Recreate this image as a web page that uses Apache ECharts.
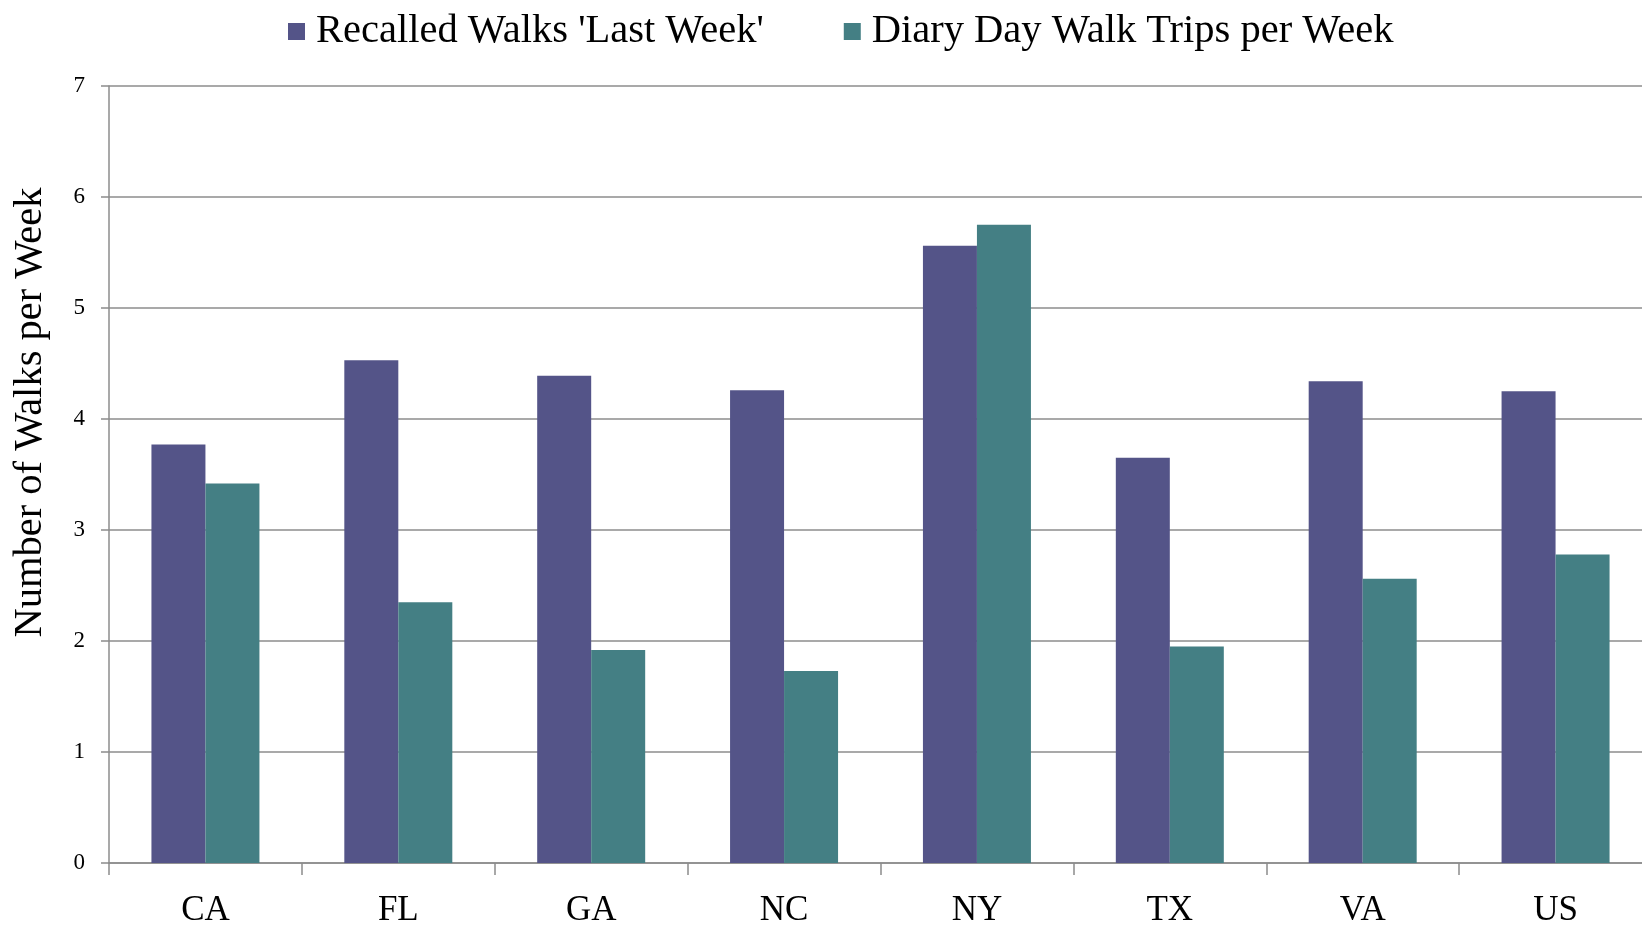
<!DOCTYPE html>
<html>
<head>
<meta charset="utf-8">
<script src="https://cdn.jsdelivr.net/npm/echarts@6/dist/echarts.min.js"></script>
<style>
  html, body { margin: 0; padding: 0; background: #fff; }
  #chart { width: 1642px; height: 926px; }
</style>
</head>
<body>
<div id="chart"></div>
<script>
  // data
  var states = ['CA', 'FL', 'GA', 'NC', 'NY', 'TX', 'VA', 'US'];
  var recalledWalks = [3.77, 4.53, 4.39, 4.26, 5.56, 3.65, 4.34, 4.25];
  var diaryWalks = [3.42, 2.35, 1.92, 1.73, 5.75, 1.95, 2.56, 2.78];
  var seriesNames = ["Recalled Walks 'Last Week'", 'Diary Day Walk Trips per Week'];

  var serif = '"Liberation Serif", "DejaVu Serif", serif';
  var gridGrey = '#8c8c8c';

  var myChart = echarts.init(document.getElementById('chart'));
  var option = {
    animation: false,
    color: ['#545488', '#447f84'],
    legend: {
      top: 6,
      left: 283,
      itemWidth: 17,
      itemHeight: 17,
      itemGap: 80,
      icon: 'rect',
      textStyle: {
        fontFamily: serif,
        fontSize: 40.5,
        color: '#000',
        padding: [0, 0, 0, 6]
      },
      data: seriesNames
    },
    grid: {
      left: 109,
      top: 86,
      bottom: 63,
      right: -10,
      containLabel: false,
      outerBoundsMode: 'none'
    },
    xAxis: {
      type: 'category',
      data: states,
      axisLine: { lineStyle: { color: gridGrey, width: 1.5 } },
      axisTick: { show: true, length: 12, lineStyle: { color: gridGrey, width: 1.5 } },
      axisLabel: {
        margin: 30,
        fontFamily: serif,
        fontSize: 35,
        color: '#000'
      }
    },
    yAxis: {
      type: 'value',
      min: 0,
      max: 7,
      interval: 1,
      name: 'Number of Walks per Week',
      nameLocation: 'middle',
      nameGap: 58,
      nameTextStyle: {
        fontFamily: serif,
        fontSize: 40.5,
        color: '#000',
        padding: [0, 0, 0, 124]
      },
      axisLine: { show: true, lineStyle: { color: gridGrey, width: 1.5 } },
      axisTick: { show: true, length: 8, lineStyle: { color: gridGrey, width: 1.5 } },
      axisLabel: {
        margin: 24,
        fontFamily: serif,
        fontSize: 23,
        color: '#000'
      },
      splitLine: { lineStyle: { color: gridGrey, width: 1.5 } }
    },
    series: [
      {
        name: seriesNames[0],
        type: 'bar',
        data: recalledWalks,
        barWidth: 54,
        barGap: '0%'
      },
      {
        name: seriesNames[1],
        type: 'bar',
        data: diaryWalks,
        barWidth: 54,
        barGap: '0%'
      }
    ]
  };
  myChart.setOption(option);
</script>
</body>
</html>
